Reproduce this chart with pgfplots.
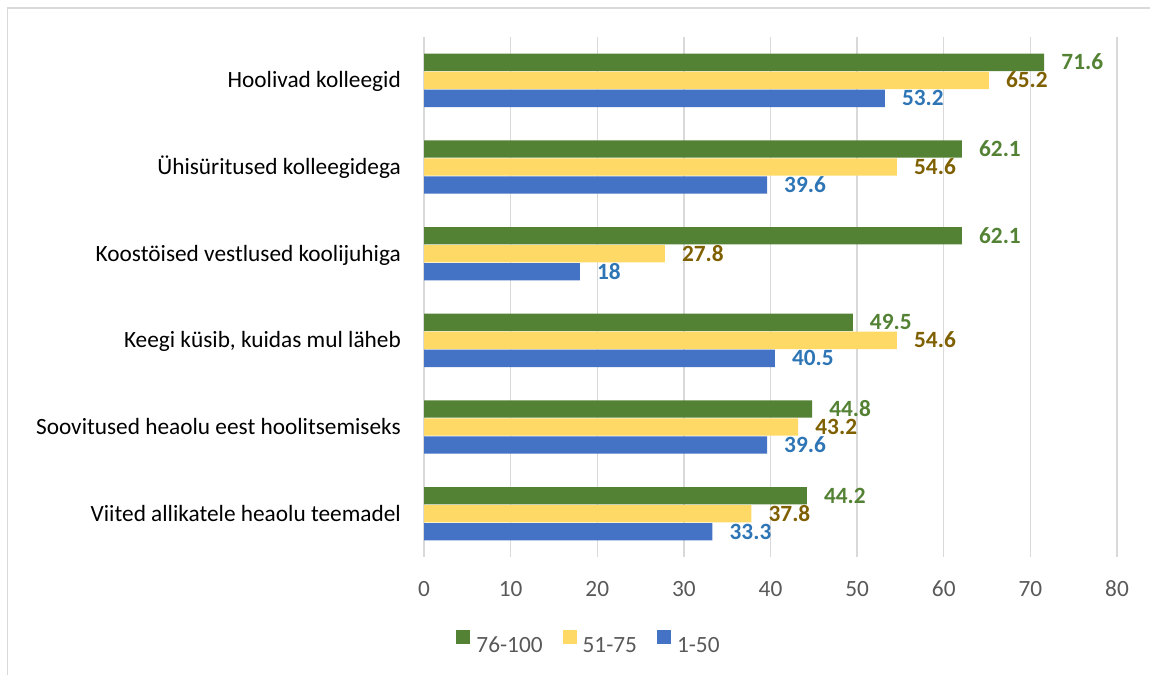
\documentclass[border=0pt]{standalone}
\usepackage{fontspec}
\setmainfont{Carlito}
\usepackage{pgfplots}
\usepackage{pgfplotstable}
\pgfplotsset{compat=1.18}

\definecolor{grpA}{HTML}{548235}
\definecolor{grpB}{HTML}{FFD966}
\definecolor{grpC}{HTML}{4472C4}
\definecolor{lblA}{HTML}{548235}
\definecolor{lblB}{HTML}{7F6000}
\definecolor{lblC}{HTML}{2E75B6}
\definecolor{gridc}{HTML}{D9D9D9}
\definecolor{axtext}{HTML}{595959}

% idx: category position (0 = top row)
\pgfplotstableread{
idx  g76   g51   g1
0    71.6  65.2  53.2
1    62.1  54.6  39.6
2    62.1  27.8  18
3    49.5  54.6  40.5
4    44.8  43.2  39.6
5    44.2  37.8  33.3
}\datatable

\newcommand{\chartfont}{\fontsize{23.3}{28}\selectfont}

\begin{document}
\begin{tikzpicture}[x=1pt,y=1pt]
\useasboundingbox (0,0) rectangle (1150,675);
% chart frame
\draw[gridc, line width=1.5pt] (1150,667) -- (7.5,667) -- (7.5,0);
\begin{axis}[
  at={(424pt,118pt)}, anchor=south west,
  scale only axis, width=693pt, height=520pt,
  xmin=0, xmax=80, ymin=-0.5, ymax=5.5, y dir=reverse,
  xtick={0,10,...,80}, ytick={0,...,5},
  yticklabels={Hoolivad kolleegid, Ühisüritused kolleegidega, Koostöised vestlused koolijuhiga, {Keegi küsib, kuidas mul läheb}, Soovitused heaolu eest hoolitsemiseks, Viited allikatele heaolu teemadel},
  xmajorgrids, grid style={gridc, line width=1.3pt},
  axis line style={draw=none}, major tick length=0pt,
  xbar, bar width=0.2,
  /pgf/number format/assume math mode=true,
  tick label style={font=\chartfont},
  xticklabel style={text=axtext, anchor=base, inner sep=0pt, yshift=-39pt},
  yticklabel style={text=black, anchor=base east, inner sep=0pt, xshift=-23pt, yshift=-7.5pt},
  nodes near coords={\pgfmathprintnumber[assume math mode=true]{\pgfplotspointmeta}},
  nodes near coords style={font=\bfseries\chartfont, anchor=base west, inner sep=0pt, xshift=17pt, yshift=-7.5pt},
  legend columns=3,
  legend style={draw=none, fill=none, at={(0.2367,-0.1642)}, anchor=center,
    font=\chartfont, text=axtext, nodes={inner sep=0pt}, column sep=6pt,
    /tikz/every even column/.append style={column sep=20pt}},
  sq legend/.style={legend image code/.code={\fill[##1] (0pt,1.3pt) rectangle (14pt,15.3pt);}},
]
\addplot[fill=grpA, draw=none, bar shift=-0.2077, nodes near coords style={text=lblA}, sq legend] table[x=g76, y=idx] {\datatable};
\addplot[fill=grpB, draw=none, bar shift=0, nodes near coords style={text=lblB}, sq legend] table[x=g51, y=idx] {\datatable};
\addplot[fill=grpC, draw=none, bar shift=0.2077, nodes near coords style={text=lblC}, sq legend] table[x=g1, y=idx] {\datatable};
\legend{76-100, 51-75, 1-50}
\end{axis}
\end{tikzpicture}
\end{document}
